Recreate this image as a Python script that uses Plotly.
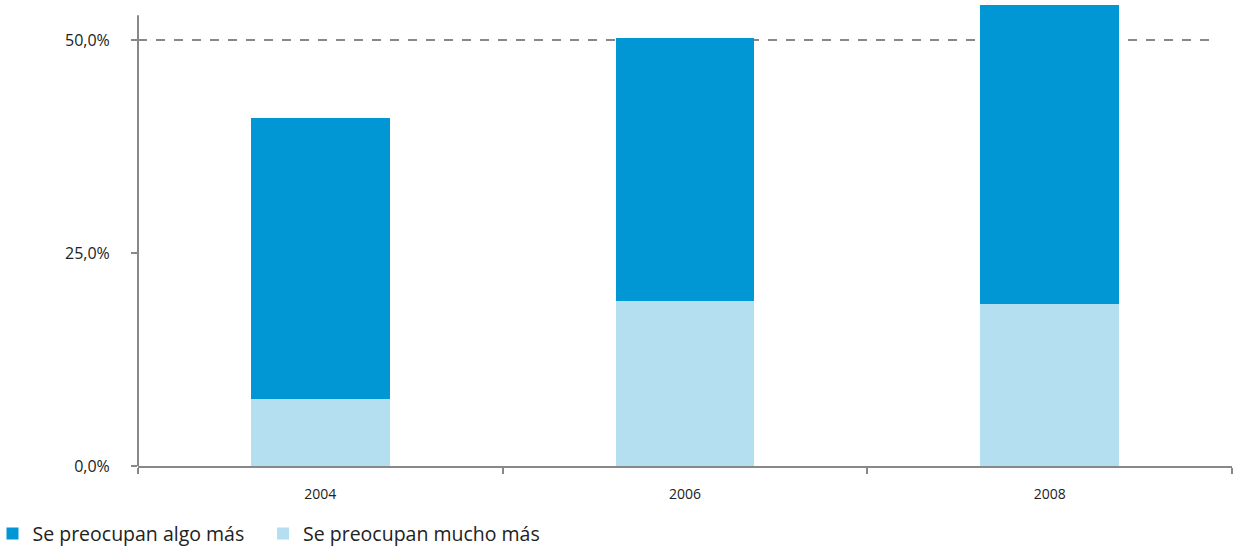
import plotly.graph_objects as go

years = ["2004", "2006", "2008"]
mucho_mas = [7.9, 19.4, 19.0]
algo_mas = [32.9, 30.8, 35.1]
tick_vals = [0, 25, 50]
tick_text = ["0,0%", "25,0%", "50,0%"]

dark = "#0097d4"
light = "#b3dff1"
axis_col = "#888888"
font_family = "'Open Sans', Lato, sans-serif"

fig = go.Figure()
fig.add_trace(go.Bar(x=years, y=mucho_mas, name="Se preocupan mucho más",
                     marker=dict(color=light, line=dict(width=0)), legend="legend2"))
fig.add_trace(go.Bar(x=years, y=algo_mas, name="Se preocupan algo más",
                     marker=dict(color=dark, line=dict(width=0)), legend="legend"))

fig.add_shape(type="line", xref="paper", yref="y", x0=0, x1=0.985, y0=50, y1=50,
              line=dict(color=axis_col, width=2, dash="dash"), layer="below")
fig.add_shape(type="line", xref="paper", yref="y", x0=0, x1=0, y0=0, y1=52.9,
              line=dict(color=axis_col, width=2))

legend_common = dict(orientation="h", y=-0.105, xanchor="left", yanchor="top",
                     font=dict(size=19.5), itemwidth=30, bgcolor="rgba(0,0,0,0)")

fig.update_layout(
    width=1234, height=547,
    margin=dict(l=138, r=2, t=5, b=81, autoexpand=False),
    barmode="stack", bargap=0.62,
    plot_bgcolor="white", paper_bgcolor="white",
    font=dict(family=font_family, color="#222222"),
    showlegend=True,
    legend=dict(x=-0.133, **legend_common),
    legend2=dict(x=0.1143, **legend_common),
    xaxis=dict(type="category", showline=True, linecolor=axis_col, linewidth=2,
               ticks="outside", tickson="boundaries", ticklen=6, tickcolor=axis_col,
               tickwidth=2, showgrid=False, tickfont=dict(size=14),
               automargin=False, ticklabelstandoff=14),
    yaxis=dict(range=[0, 54.1], showline=False, showgrid=False, zeroline=False,
               tickvals=tick_vals, ticktext=tick_text, ticks="outside", ticklen=6,
               tickcolor=axis_col, tickwidth=2, tickfont=dict(size=16),
               automargin=False, ticklabelstandoff=18),
)

fig.write_html("out.html", config={"displayModeBar": False},
               post_script="document.body.style.margin='0';document.body.style.padding='0';")
